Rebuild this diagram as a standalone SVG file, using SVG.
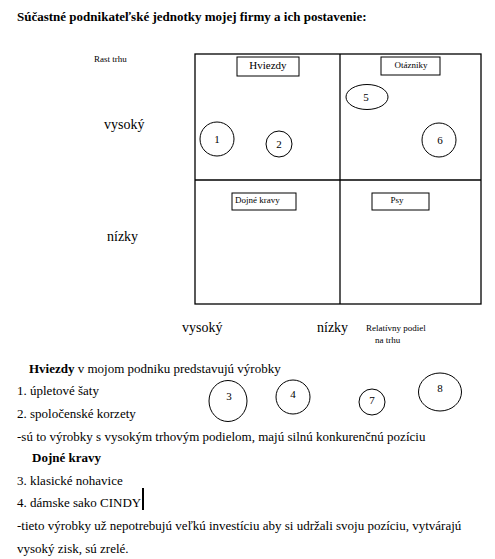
<svg xmlns="http://www.w3.org/2000/svg" width="495" height="559" viewBox="0 0 495 559">
<style>
text{font-family:"Liberation Serif","Times New Roman",serif}
.t{font-size:13px}
.s{font-size:9px}
.n{font-size:11px;text-anchor:middle}
.b{font-weight:bold}
.ln{fill:none;stroke:#000;stroke-width:1.3}
.c{fill:#fff;stroke:#000;stroke-width:1}
.lb{fill:#fff;stroke:#000;stroke-width:1}
</style>
<rect width="495" height="559" fill="#fff"/>
<g fill="#000">
<text class="t b" x="17" y="21">Súčastné podnikateľské jednotky mojej firmy a ich postavenie:</text>
<g id="axes-labels">
<text class="s" x="94" y="62">Rast trhu</text>
<text x="104" y="129" font-size="14">vysoký</text>
<text x="107" y="241" font-size="14">nízky</text>
<text x="182" y="332" font-size="14">vysoký</text>
<text x="317" y="332" font-size="14">nízky</text>
<text class="s" x="366" y="331">Relatívny podiel</text>
<text class="s" x="375" y="343">na trhu</text>
</g>
<g id="grid">
<rect class="ln" x="195" y="54" width="286" height="250"/>
<line class="ln" x1="340" y1="54" x2="340" y2="304"/>
<line class="ln" x1="195" y1="180" x2="481" y2="180"/>
</g>
<g id="hviezdy">
<rect class="lb" x="237" y="57" width="62" height="19"/>
<text x="268" y="69" font-size="11" text-anchor="middle">Hviezdy</text>
</g>
<g id="otazniky">
<rect class="lb" x="381" y="57" width="59" height="18"/>
<text class="s" x="411" y="68" text-anchor="middle">Otázniky</text>
</g>
<g id="dojne-kravy">
<rect class="lb" x="232" y="193" width="64" height="17"/>
<text class="s" x="235" y="203">Dojné kravy</text>
</g>
<g id="psy">
<rect class="lb" x="372" y="193" width="57" height="17"/>
<text class="s" x="397" y="203" text-anchor="middle">Psy</text>
</g>
<g id="c1"><circle class="c" cx="217" cy="139" r="17"/><text class="n" x="217" y="143">1</text></g>
<g id="c2"><circle class="c" cx="279" cy="144" r="13"/><text class="n" x="279" y="148">2</text></g>
<g id="c5"><ellipse class="c" cx="367" cy="97" rx="21" ry="12.5"/><text class="n" x="366" y="101">5</text></g>
<g id="c6"><circle class="c" cx="439" cy="140" r="17"/><text class="n" x="440" y="144">6</text></g>
<g id="c3"><ellipse class="c" cx="228" cy="401" rx="19" ry="20.5"/><text class="n" x="229" y="400">3</text></g>
<g id="c4"><circle class="c" cx="293" cy="397" r="17"/><text class="n" x="293" y="398">4</text></g>
<g id="c7"><circle class="c" cx="372" cy="402" r="13"/><text class="n" x="372" y="404">7</text></g>
<g id="c8"><ellipse class="c" cx="440" cy="392" rx="21.5" ry="19"/><text class="n" x="440" y="392">8</text></g>
<g id="connectors"></g>
<g id="body">
<text class="t" x="29" y="373"><tspan class="b">Hviezdy</tspan> v mojom podniku predstavujú výrobky</text>
<text class="t" x="17" y="395">1. úpletové šaty</text>
<text class="t" x="17" y="418">2. spoločenské korzety</text>
<text class="t" x="17" y="441">-sú to výrobky s vysokým trhovým podielom, majú silnú konkurenčnú pozíciu</text>
<text class="t b" x="32" y="462">Dojné kravy</text>
<text class="t" x="17" y="485">3. klasické nohavice</text>
<text class="t" x="17" y="507">4. dámske sako CINDY</text>
<rect x="142" y="488" width="2" height="22" fill="#000"/>
<text class="t" x="17" y="530">-tieto výrobky už nepotrebujú veľkú investíciu aby si udržali svoju pozíciu, vytvárajú</text>
<text class="t" x="17" y="553">vysoký zisk, sú zrelé.</text>
</g>
</g>
</svg>
